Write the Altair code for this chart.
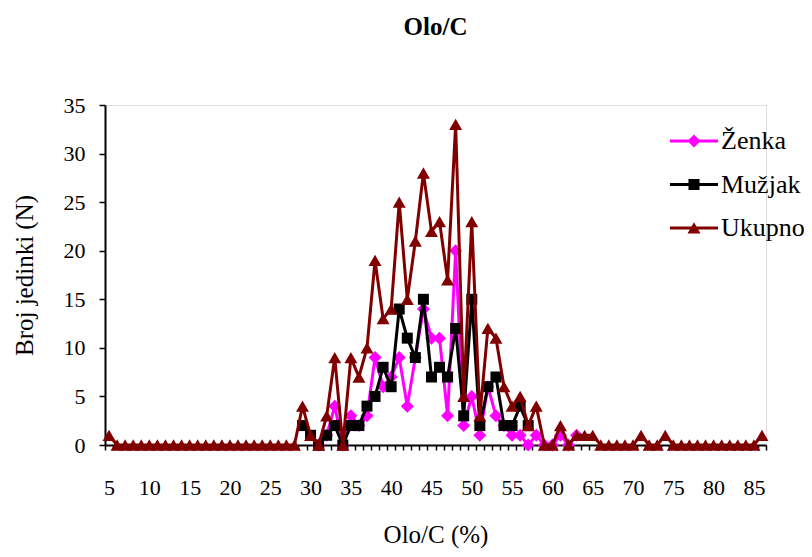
import altair as alt
import pandas as pd

# ---- data ----
categories = list(range(5, 87))  # Olo/C (%) categories 5..86

ukupno = [1] + [0] * 23 + [
    4, 1, 0, 3, 9, 0, 9, 7, 10, 19,      # 29-38
    13, 14, 25, 15, 21, 28, 22, 23, 17, 33,  # 39-48
    5, 23, 3, 12, 11, 6, 4, 5, 2, 4,     # 49-58
    0, 0, 2, 0, 1, 1, 1, 0, 0, 0,        # 59-68
    0, 0, 1, 0, 0, 1, 0, 0, 0, 0,        # 69-78
    0, 0, 0, 0, 0, 0, 0, 1               # 79-86
]

zenka_start = 31
zenka = [0, 1, 4, 0, 3, 2, 3, 9, 6, 7,     # 31-40
         9, 4, 9, 14, 11, 11, 3, 20, 2, 5,   # 41-50
         1, 6, 3, 2, 1, 1, 0, 1, 0, 0,       # 51-60
         1, 0, 1]                            # 61-63

muzjak_start = 29
muzjak = [2, 1, 0, 1, 2, 0, 2, 2, 4, 5,    # 29-38
          8, 6, 14, 11, 9, 15, 7, 8, 7, 12,  # 39-48
          3, 15, 2, 6, 7, 2, 2, 4, 2]        # 49-57

series_names = ["Ženka", "Mužjak", "Ukupno"]
series_colors = ["#FF00FF", "#000000", "#800000"]
plot_shapes = ["diamond", "square", "triangle-up"]
legend_paths = [
    "M-3.7,-0.22H3.7V0.22H-3.7Z M0,-1L1,0L0,1L-1,0Z",
    "M-3.7,-0.22H3.7V0.22H-3.7Z M-0.85,-0.85H0.85V0.85H-0.85Z",
    "M-3.7,-0.22H3.7V0.22H-3.7Z M0,-0.9L1,0.85H-1Z",
]

rows = []
for c, v in zip(categories, ukupno):
    rows.append({"c": c, "v": v, "s": "Ukupno"})
for i, v in enumerate(zenka):
    rows.append({"c": zenka_start + i, "v": v, "s": "Ženka"})
for i, v in enumerate(muzjak):
    rows.append({"c": muzjak_start + i, "v": v, "s": "Mužjak"})
df = pd.DataFrame(rows)

FONT = "Liberation Serif"
xscale = alt.Scale(domain=[4.5, 86.5], nice=False, zero=False)
yscale = alt.Scale(domain=[0, 35], nice=False)

tick_axis = alt.Axis(
    orient="bottom", values=[4.5 + i for i in range(83)], labels=False,
    ticks=True, tickSize=5, tickWidth=1.5, tickColor="black",
    domain=True, domainColor="black", domainWidth=2, grid=False, title=None,
)
label_axis = alt.Axis(
    orient="bottom", values=list(range(5, 90, 5)), ticks=False, tickSize=0,
    domain=False, grid=False, labels=True, labelFont=FONT, labelFontSize=22,
    labelColor="black", labelPadding=32, labelFlush=False, labelOverlap=False,
    title="Olo/C (%)", titleFont=FONT, titleFontSize=25, titleFontWeight="normal",
    titleColor="black", titlePadding=24,
)
y_axis = alt.Axis(
    orient="left", values=list(range(0, 40, 5)), tickSize=6, tickWidth=1.5,
    tickColor="black", domain=True, domainColor="black", domainWidth=2,
    grid=False, labels=True, ticks=True, labelFont=FONT,
    labelFontSize=22, labelColor="black", labelPadding=14,
    title="Broj jedinki (N)", titleFont=FONT, titleFontSize=25,
    titleFontWeight="normal", titleColor="black", titlePadding=26,
)

layers = []
first = True
for name, col, shp in zip(series_names, series_colors, plot_shapes):
    sub = alt.Chart(df).transform_filter(alt.datum.s == name)
    line = sub.mark_line(color=col, strokeWidth=3).encode(
        x=alt.X("c:Q", scale=xscale, axis=tick_axis if first else None),
        y=alt.Y("v:Q", scale=yscale, axis=y_axis),
        order="c:Q",
    )
    size = 121 if shp == "square" else 169
    pts = sub.mark_point(filled=True, shape=shp, size=size, color=col, opacity=1).encode(
        x=alt.X("c:Q", scale=xscale, axis=label_axis if first else None),
        y=alt.Y("v:Q", scale=yscale, axis=y_axis),
    )
    layers += [line, pts]
    first = False

leg_props = dict(
    orient="none", legendX=576, legendY=23, title=None, symbolSize=169,
    symbolStrokeWidth=0, symbolOpacity=1, labelFont=FONT, labelFontSize=26,
    labelColor="black", labelOffset=14, rowPadding=17.5, padding=0,
)
legend_layer = alt.Chart(df).transform_filter("datum.v < -1").mark_point(
    filled=True, opacity=1
).encode(
    x=alt.X("c:Q", scale=xscale, axis=None),
    y=alt.Y("v:Q", scale=yscale, axis=y_axis),
    color=alt.Color("s:N", scale=alt.Scale(domain=series_names, range=series_colors),
                    legend=alt.Legend(**leg_props)),
    shape=alt.Shape("s:N", scale=alt.Scale(domain=series_names, range=legend_paths),
                    legend=alt.Legend(**leg_props)),
)
layers.append(legend_layer)

chart = alt.layer(*layers).resolve_axis(x="independent", y="shared").properties(
    width=661, height=340,
    title=alt.TitleParams("Olo/C", font=FONT, fontSize=25, fontWeight="bold",
                          color="black", anchor="middle", frame="group", offset=54),
    autosize=alt.AutoSizeParams(type="none"),
    padding={"left": 97, "top": 97, "right": 38, "bottom": 104},
).configure_view(strokeWidth=0, stroke="transparent").configure(background="white")

chart.save("out.html", embed_options={"renderer": "svg", "actions": False})
